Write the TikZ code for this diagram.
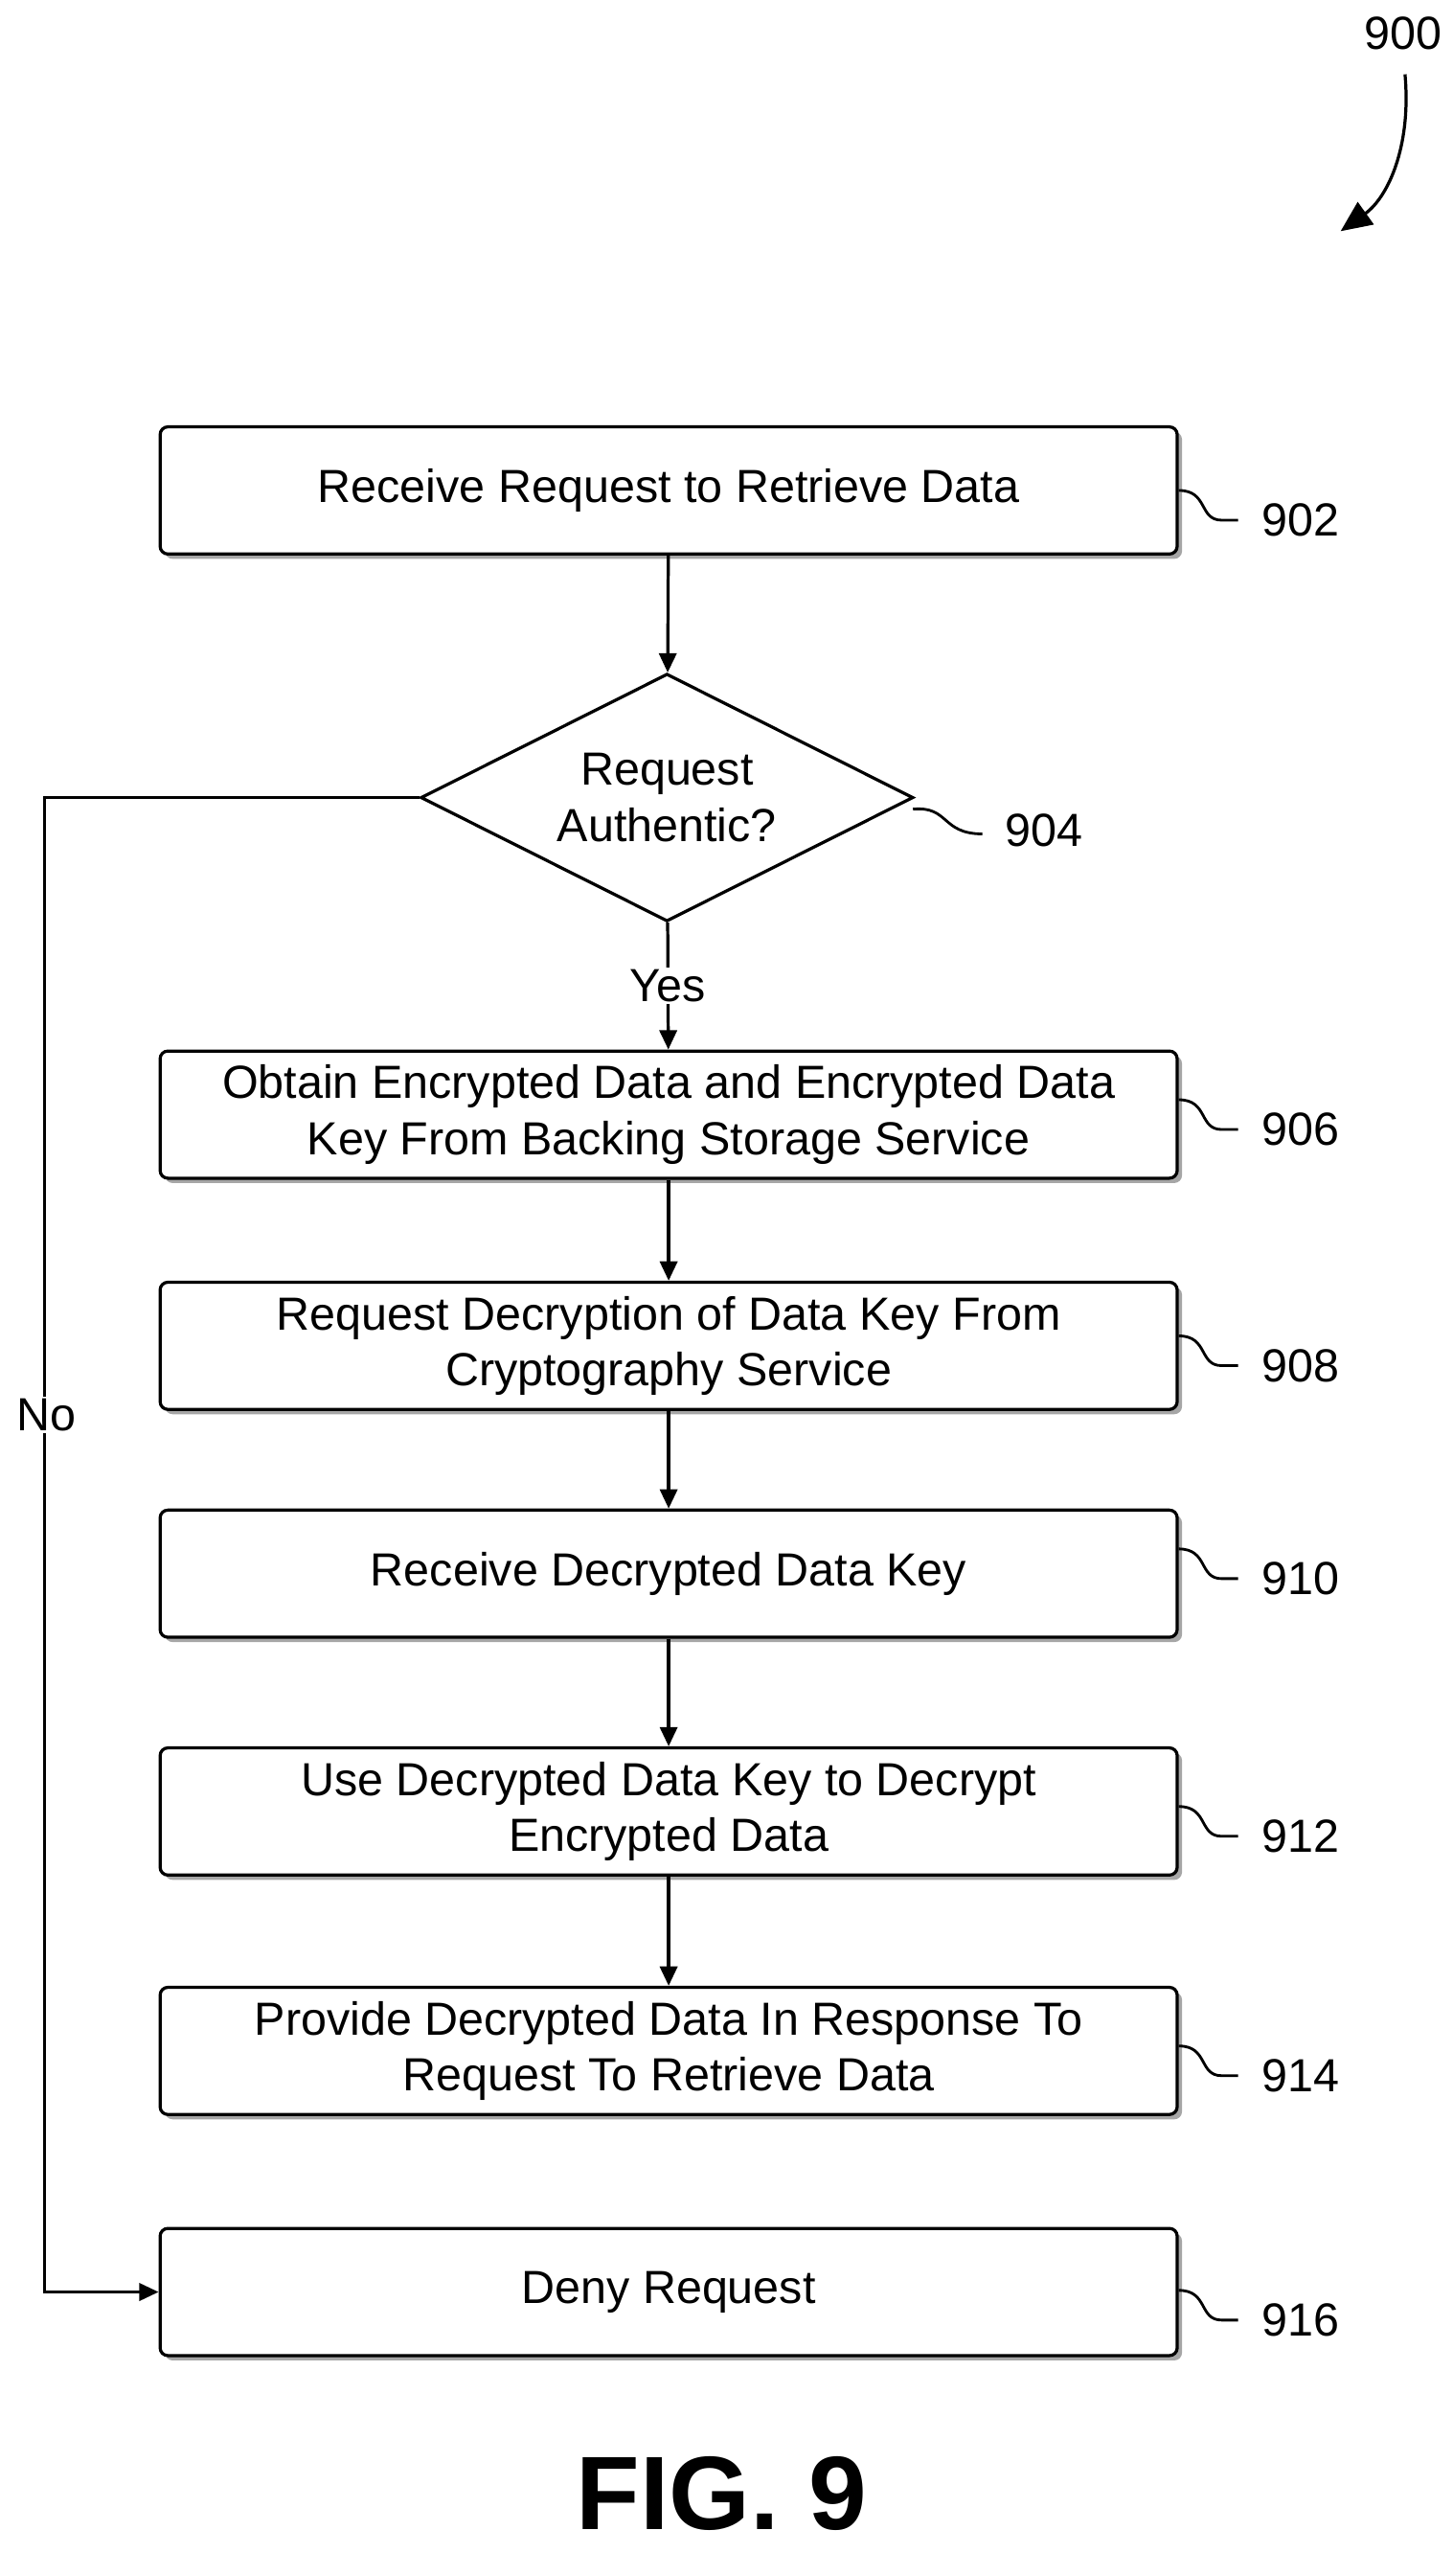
\documentclass[tikz,border=0pt]{standalone}
\usepackage{fontspec}
\setmainfont{Liberation Sans}
\usetikzlibrary{positioning,shapes.geometric,arrows.meta,shadows}

\tikzset{
  stepbox/.style={draw, line width=1.6pt, rounded corners=4pt, fill=white,
    minimum width=18.48cm, minimum height=2.31cm, align=center,
    font=\fontsize{24}{29}\selectfont,
    drop shadow={shadow xshift=2.5pt, shadow yshift=-2.5pt, fill=gray!70, opacity=1}},
  check/.style={draw, line width=1.6pt, diamond, aspect=2, fill=white,
    minimum width=8.95cm, minimum height=4.5cm, inner sep=0pt, align=center,
    font=\fontsize{24}{29}\selectfont},
  flow/.style={line width=1.6pt, -{Triangle[length=10pt,width=9pt]}},
  tag/.style={font=\fontsize{24}{29}\selectfont},
  squig/.style={line width=1.4pt}
}

\begin{document}
\begin{tikzpicture}[x=0.03cm, y=-0.03cm]
    \useasboundingbox (0,0) rectangle (880,1560);

    % steps
    \node[stepbox] (recv) at (405,297) {Receive Request to Retrieve Data};
    \node[check] (auth) at (404,483) {Request\\Authentic?};
    \node[stepbox] (obtain) at (405,675) {Obtain Encrypted Data and Encrypted Data\\Key From Backing Storage Service};
    \node[stepbox] (reqdec) at (405,815) {Request Decryption of Data Key From\\Cryptography Service};
    \node[stepbox] (getkey) at (405,953) {Receive Decrypted Data Key};
    \node[stepbox] (usekey) at (405,1097) {Use Decrypted Data Key to Decrypt\\Encrypted Data};
    \node[stepbox] (provide) at (405,1242) {Provide Decrypted Data In Response To\\Request To Retrieve Data};
    \node[stepbox] (deny) at (405,1388) {Deny Request};

    % connectors
    \draw[flow] (recv) -- (auth);
    \draw[flow] (auth) -- node[tag, fill=white, inner sep=1pt] {Yes} (obtain);
    \draw[flow] (obtain) -- (reqdec);
    \draw[flow] (reqdec) -- (getkey);
    \draw[flow] (getkey) -- (usekey);
    \draw[flow] (usekey) -- (provide);
    \coordinate (nA) at (27,483);
    \coordinate (nB) at (27,1388);
    \draw[flow] (auth.west) -- (nA) -- (nB) -- (deny.west);
    \node[tag, fill=white, inner sep=1pt] (no) at (28,857) {No};

    % reference labels
    \foreach \src/\yy/\num in {recv/315/902, obtain/684/906, reqdec/827/908,
        getkey/956/910, usekey/1112/912, provide/1257/914, deny/1405/916} {
      \draw[squig] (\src.east |- 0,\yy) ++(0,-18) .. controls +(18,0) and +(-14,0) .. +(26,18) -- +(36,18);
      \node[tag, anchor=west] (l\num) at (760,\yy) {\num};
    }
    \draw[squig] (553,490) .. controls (575,488) and (570,505) .. (595,505);
    \node[tag, anchor=west] (l904) at (605,503) {904};

    \node[tag] (l900) at (850,20) {900};
    \coordinate (p900) at (812,140);
    \draw[line width=1.6pt, -{Triangle[length=16pt,width=14pt]}] (851,45) .. controls (855,90) and (840,120) .. (p900);

    \node[font=\fontsize{54}{60}\selectfont\bfseries] (fig) at (437,1510) {FIG. 9};
\end{tikzpicture}
\end{document}
